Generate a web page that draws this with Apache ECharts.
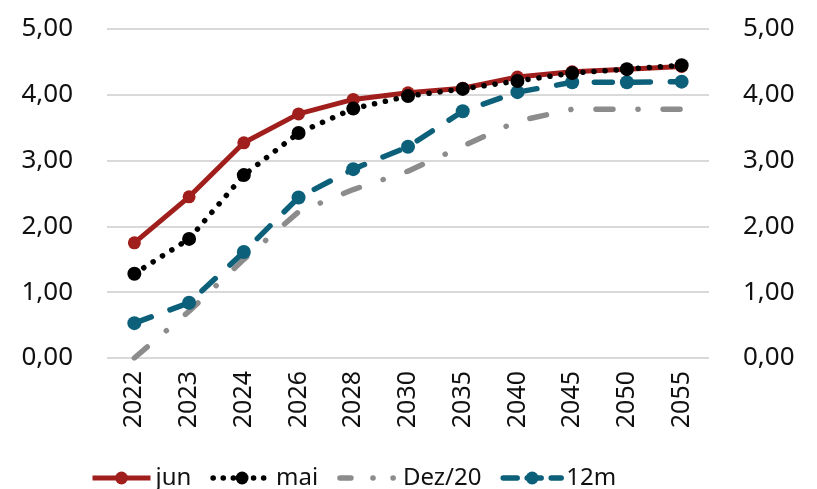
<!DOCTYPE html>
<html><head><meta charset="utf-8">
<script src="https://cdn.jsdelivr.net/npm/echarts@6/dist/echarts.min.js"></script>
<style>html,body{margin:0;padding:0;background:#fff}#c{width:817px;height:489px}</style>
</head><body><div id="c"></div>
<script>
const categories = ['2022','2023','2024','2026','2028','2030','2035','2040','2045','2050','2055'];
const jun   = [1.75,2.45,3.27,3.71,3.93,4.03,4.10,4.27,4.35,4.39,4.43];
const mai   = [1.28,1.81,2.78,3.42,3.79,3.98,4.09,4.21,4.33,4.39,4.45];
const dez20 = [0.00,0.71,1.50,2.22,2.56,2.84,3.22,3.60,3.78,3.78,3.78];
const m12   = [0.53,0.84,1.61,2.44,2.87,3.21,3.75,4.04,4.19,4.19,4.20];
const yTickLabels = ['0,00','1,00','2,00','3,00','4,00','5,00'];
const seriesNames = ['jun','mai','Dez/20','12m'];

const FONT = 'Noto Sans';
const RED = '#A01F1C', TEAL = '#0C607A', GRAY = '#8C8C8C';

const yAxisBase = {
  type: 'value', min: 0, max: 5, interval: 1,
  axisLine: {show: false}, axisTick: {show: false},
  axisLabel: {fontFamily: FONT, fontSize: 26, color: '#111', margin: 34,
    formatter: v => yTickLabels[Math.round(v)]}
};

const chart = echarts.init(document.getElementById('c'), null, {renderer: 'canvas'});
chart.setOption({
  animation: false,
  backgroundColor: '#fff',
  grid: {left: 107, right: 108, top: 29, bottom: 131, containLabel: false},
  xAxis: {
    type: 'category', data: categories, boundaryGap: true,
    axisLine: {show: false}, axisTick: {show: false},
    axisLabel: {rotate: 90, fontFamily: FONT, fontSize: 25, color: '#111', margin: 13}
  },
  yAxis: [
    Object.assign({}, yAxisBase, {position: 'left',
      splitLine: {show: true, lineStyle: {color: '#D9D9D9', width: 2}}}),
    Object.assign({}, yAxisBase, {position: 'right', splitLine: {show: false}})
  ],
  legend: {
    data: [
      {name: seriesNames[0], lineStyle: {width: 5}},
      {name: seriesNames[1], lineStyle: {width: 5.5, type: [0.1, 10], cap: 'round'}},
      {name: seriesNames[2], itemStyle: {opacity: 0},
       lineStyle: {width: 5.5, type: [11, 22, 0.1, 20, 0.1, 40], cap: 'round'}},
      {name: seriesNames[3], lineStyle: {width: 5.5, type: [14, 10], cap: 'round'}}
    ],
    left: 85, top: 461, itemWidth: 58, itemHeight: 16, itemGap: 19,
    lineStyle: {width: 5},
    textStyle: {fontFamily: FONT, fontSize: 24, color: '#111'}
  },
  series: [
    {name: seriesNames[0], type: 'line', data: jun, z: 3,
     symbol: 'circle', symbolSize: 13, showSymbol: true,
     itemStyle: {color: RED}, lineStyle: {color: RED, width: 5}},
    {name: seriesNames[1], type: 'line', data: mai, z: 4,
     symbol: 'circle', symbolSize: 14,
     itemStyle: {color: '#000'},
     lineStyle: {color: '#000', width: 5.5, type: [0.1, 11], cap: 'round'}},
    {name: seriesNames[2], type: 'line', data: dez20, z: 1,
     symbol: 'none',
     itemStyle: {color: GRAY},
     lineStyle: {color: GRAY, width: 5.5, type: [17, 25, 0.1, 25], cap: 'round'}},
    {name: seriesNames[3], type: 'line', data: m12, z: 2,
     symbol: 'circle', symbolSize: 14,
     itemStyle: {color: TEAL},
     lineStyle: {color: TEAL, width: 5.5, type: [18, 20], cap: 'round'}}
  ]
});
</script>
</body></html>
